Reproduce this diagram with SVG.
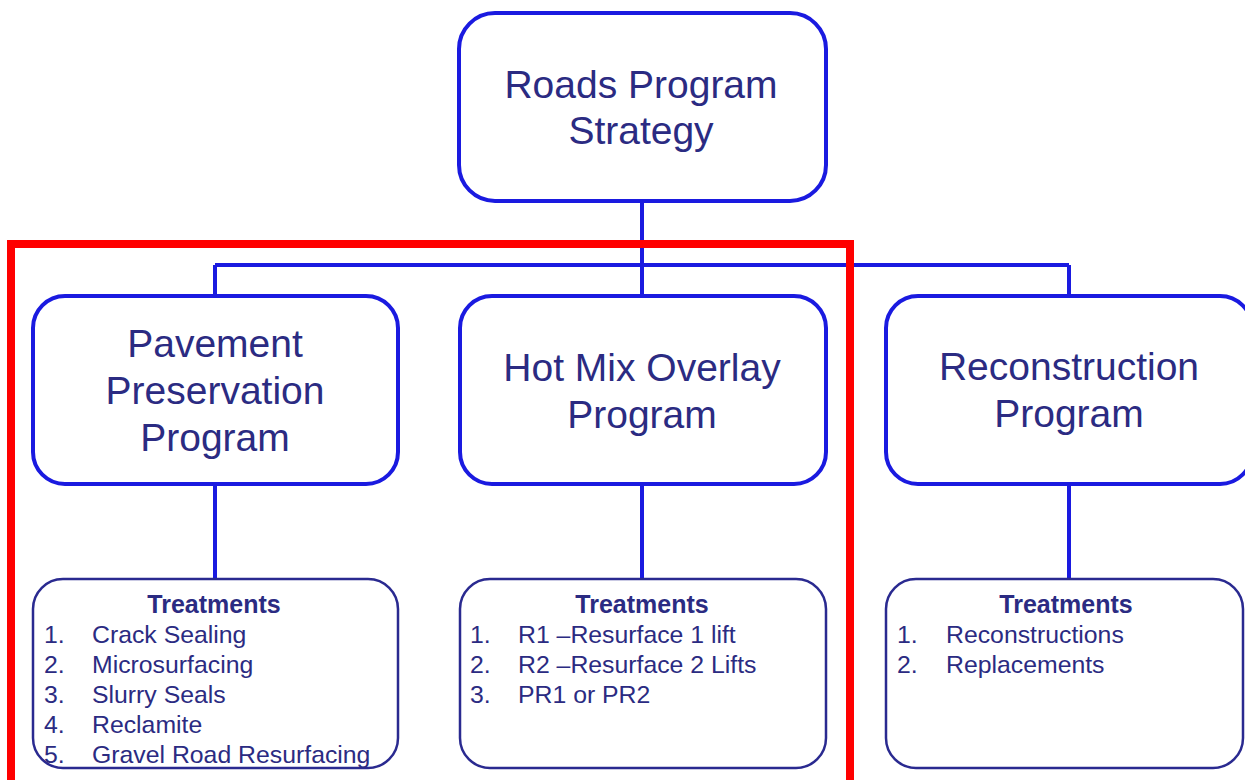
<svg xmlns="http://www.w3.org/2000/svg" width="1245" height="780" viewBox="0 0 1245 780">
<style>
.box{fill:#ffffff;stroke:#1a1ae0;stroke-width:4}
.tbox{fill:#ffffff;stroke:#2a2a90;stroke-width:2.5}
.conn{stroke:#1a1ae0;stroke-width:4;fill:none}
.big{font-family:"Liberation Sans",Arial,sans-serif;font-size:39px;fill:#2b2b82;text-anchor:middle}
.hd{font-family:"Liberation Sans",Arial,sans-serif;font-size:25px;font-weight:bold;fill:#2b2b82;text-anchor:middle}
.it{font-family:"Liberation Sans",Arial,sans-serif;font-size:24.8px;fill:#2b2b82}
</style>
<rect width="1245" height="780" fill="#ffffff"/>
<g id="connectors">
<line class="conn" x1="642" y1="201" x2="642" y2="296"/>
<line class="conn" x1="215" y1="265" x2="1069" y2="265"/>
<line class="conn" x1="215" y1="265" x2="215" y2="296"/>
<line class="conn" x1="1069" y1="265" x2="1069" y2="296"/>
<line class="conn" x1="215" y1="484" x2="215" y2="579"/>
<line class="conn" x1="642" y1="484" x2="642" y2="579"/>
<line class="conn" x1="1069" y1="484" x2="1069" y2="579"/>
</g>
<g id="root">
<rect class="box" x="459" y="13" width="367" height="188" rx="36"/>
<text class="big" x="641" y="98">Roads Program</text>
<text class="big" x="641" y="144">Strategy</text>
</g>
<g id="pavement">
<rect class="box" x="33" y="296" width="365" height="188" rx="32"/>
<text class="big" x="215" y="357">Pavement</text>
<text class="big" x="215" y="404">Preservation</text>
<text class="big" x="215" y="451">Program</text>
</g>
<g id="hotmix">
<rect class="box" x="460" y="296" width="366" height="188" rx="32"/>
<text class="big" x="642" y="381">Hot Mix Overlay</text>
<text class="big" x="642" y="428">Program</text>
</g>
<g id="reconstruction">
<rect class="box" x="886" y="296" width="366" height="188" rx="32"/>
<text class="big" x="1069" y="380">Reconstruction</text>
<text class="big" x="1069" y="427">Program</text>
</g>
<g id="pavement-treatments">
<rect class="tbox" x="33" y="579" width="365" height="189" rx="30"/>
<text class="hd" x="214" y="613">Treatments</text>
<text class="it" x="44" y="643">1.</text><text class="it" x="92" y="643">Crack Sealing</text>
<text class="it" x="44" y="673">2.</text><text class="it" x="92" y="673">Microsurfacing</text>
<text class="it" x="44" y="703">3.</text><text class="it" x="92" y="703">Slurry Seals</text>
<text class="it" x="44" y="733">4.</text><text class="it" x="92" y="733">Reclamite</text>
<text class="it" x="44" y="763">5.</text><text class="it" x="92" y="763">Gravel Road Resurfacing</text>
</g>
<g id="hotmix-treatments">
<rect class="tbox" x="460" y="579" width="366" height="189" rx="30"/>
<text class="hd" x="642" y="613">Treatments</text>
<text class="it" x="470" y="643">1.</text><text class="it" x="518" y="643">R1 –Resurface 1 lift</text>
<text class="it" x="470" y="673">2.</text><text class="it" x="518" y="673">R2 –Resurface 2 Lifts</text>
<text class="it" x="470" y="703">3.</text><text class="it" x="518" y="703">PR1 or PR2</text>
</g>
<g id="reconstruction-treatments">
<rect class="tbox" x="886" y="579" width="357" height="189" rx="30"/>
<text class="hd" x="1066" y="613">Treatments</text>
<text class="it" x="897" y="643">1.</text><text class="it" x="946" y="643">Reconstructions</text>
<text class="it" x="897" y="673">2.</text><text class="it" x="946" y="673">Replacements</text>
</g>
<rect id="highlight" x="11" y="244" width="839" height="560" fill="none" stroke="#ff0000" stroke-width="8"/>
</svg>
